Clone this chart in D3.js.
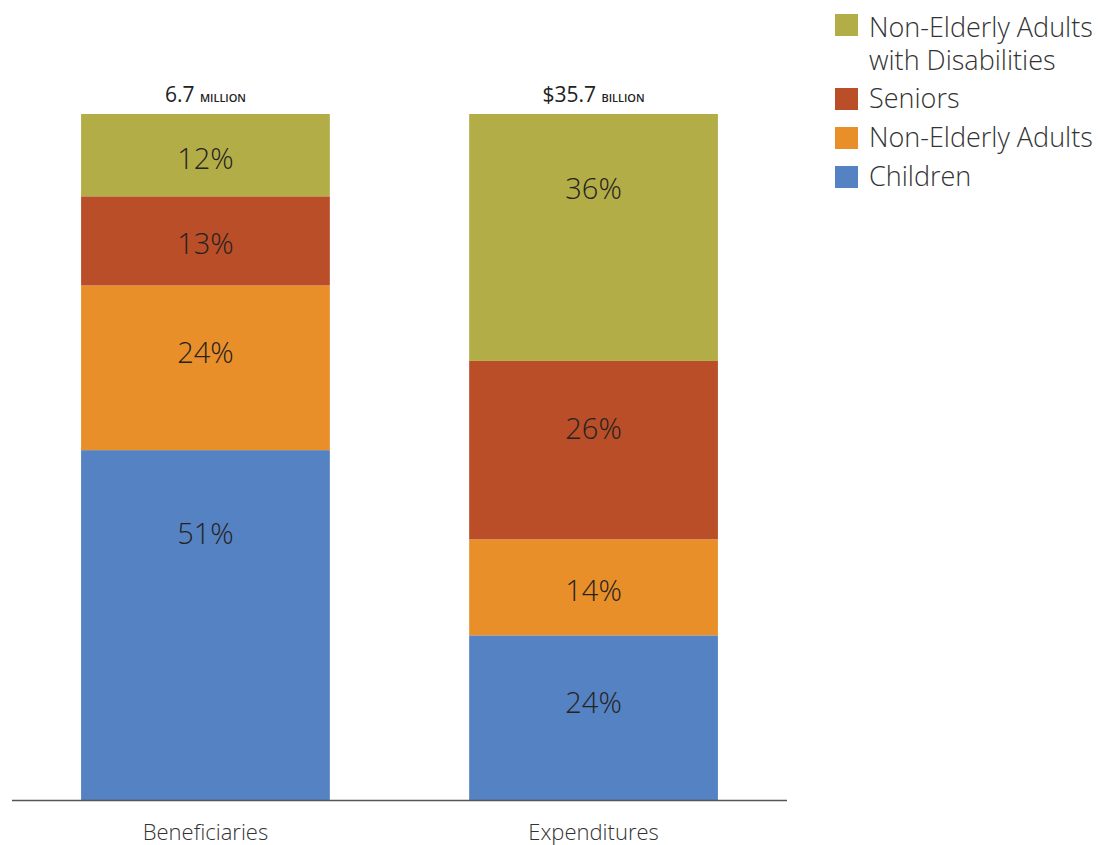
<!DOCTYPE html>
<html>
<head>
<meta charset="utf-8">
<script src="https://cdn.jsdelivr.net/npm/d3@7"></script>
<style>
  html, body { margin: 0; padding: 0; background: #fff; }
  svg text { font-family: "Open Sans", "Noto Sans", sans-serif; }
</style>
</head>
<body>
<svg id="chart" width="1102" height="845"></svg>
<script>
// Medicaid beneficiaries vs. expenditures by enrollment group (percent shares)
const categories = ["Beneficiaries", "Expenditures"];
const groups = ["Children", "Non-Elderly Adults", "Seniors", "Non-Elderly Adults with Disabilities"];
const children   = [51, 24];
const adults     = [24, 14];
const seniors    = [13, 26];
const disabled   = [12, 36];
const totalsMain = ["6.7", "$35.7"];
const totalsUnit = ["MILLION", "BILLION"];
const legendKeys = ["Non-Elderly Adults with Disabilities", "Seniors", "Non-Elderly Adults", "Children"];
const legendLines = [
  ["Non-Elderly Adults", "with Disabilities"],
  ["Seniors"],
  ["Non-Elderly Adults"],
  ["Children"]
];

const colors = {
  "Children": "#5582c2",
  "Non-Elderly Adults": "#e98f2a",
  "Seniors": "#b94e28",
  "Non-Elderly Adults with Disabilities": "#b3ad48"
};

const rows = categories.map((c, i) => ({
  category: c,
  "Children": children[i],
  "Non-Elderly Adults": adults[i],
  "Seniors": seniors[i],
  "Non-Elderly Adults with Disabilities": disabled[i]
}));

const svg = d3.select("#chart");
const plot = { left: 12, right: 787, top: 114, bottom: 800 };

const x = d3.scaleBand()
  .domain(categories)
  .range([plot.left, plot.right])
  .paddingInner(0.359)
  .paddingOuter(0.178);

const y = d3.scaleLinear().domain([0, 100]).range([plot.bottom, plot.top]);

const stacked = d3.stack().keys(groups)(rows);

const layer = svg.append("g").selectAll("g")
  .data(stacked)
  .join("g")
  .attr("fill", d => colors[d.key]);

layer.selectAll("rect")
  .data(d => d)
  .join("rect")
  .attr("x", d => x(d.data.category))
  .attr("width", x.bandwidth())
  .attr("y", d => y(d[1]))
  .attr("height", d => y(d[0]) - y(d[1]));

// Share labels sit in the upper part of tall segments, centred in short ones
layer.selectAll("text")
  .data(d => d.map(v => ({ v, val: v[1] - v[0] })))
  .join("text")
  .attr("x", d => x(d.v.data.category) + x.bandwidth() / 2)
  .attr("y", d => {
    const top = y(d.v[1]);
    const h = y(d.v[0]) - top;
    return top + Math.min(h / 2 + 3, 52 + 0.09 * h);
  })
  .attr("dy", "0.36em")
  .attr("text-anchor", "middle")
  .attr("fill", "#26221f")
  .attr("font-size", 29)
  .attr("font-weight", 300)
  .text(d => d.val + "%");

// Baseline axis
const axis = svg.append("g")
  .attr("transform", `translate(0,${plot.bottom})`)
  .call(d3.axisBottom(x).tickSize(0).tickPadding(24));
axis.select(".domain")
  .attr("d", `M${plot.left},0.5H${plot.right}`)
  .attr("stroke", "#555")
  .attr("stroke-width", 1.5);
axis.selectAll(".tick text")
  .attr("font-size", 22)
  .attr("font-weight", 300)
  .attr("fill", "#333")
  .attr("font-family", "\"Open Sans\", sans-serif");

// Totals above each bar
const totals = svg.append("g").selectAll("text")
  .data(categories)
  .join("text")
  .attr("x", d => x(d) + x.bandwidth() / 2)
  .attr("y", plot.top - 12)
  .attr("text-anchor", "middle")
  .attr("fill", "#222");
totals.append("tspan")
  .attr("font-size", 21)
  .attr("font-weight", 500)
  .text((d, i) => totalsMain[i] + " ");
totals.append("tspan")
  .attr("font-size", 11)
  .attr("font-weight", 600)
  .text((d, i) => totalsUnit[i]);

// Legend
const legend = svg.append("g").attr("transform", "translate(835,0)");
const swatchTop = [14, 88, 127, 166];
const baselines = [37, 108, 147, 186];
legendKeys.forEach((k, i) => {
  legend.append("rect")
    .attr("y", swatchTop[i])
    .attr("width", 23).attr("height", 22)
    .attr("fill", colors[k]);
  const t = legend.append("text")
    .attr("x", 34).attr("y", baselines[i])
    .attr("font-size", 27)
    .attr("font-weight", 300)
    .attr("fill", "#333");
  legendLines[i].forEach((line, j) => {
    t.append("tspan").attr("x", 34).attr("dy", j === 0 ? 0 : 33).text(line);
  });
});
</script>
</body>
</html>
